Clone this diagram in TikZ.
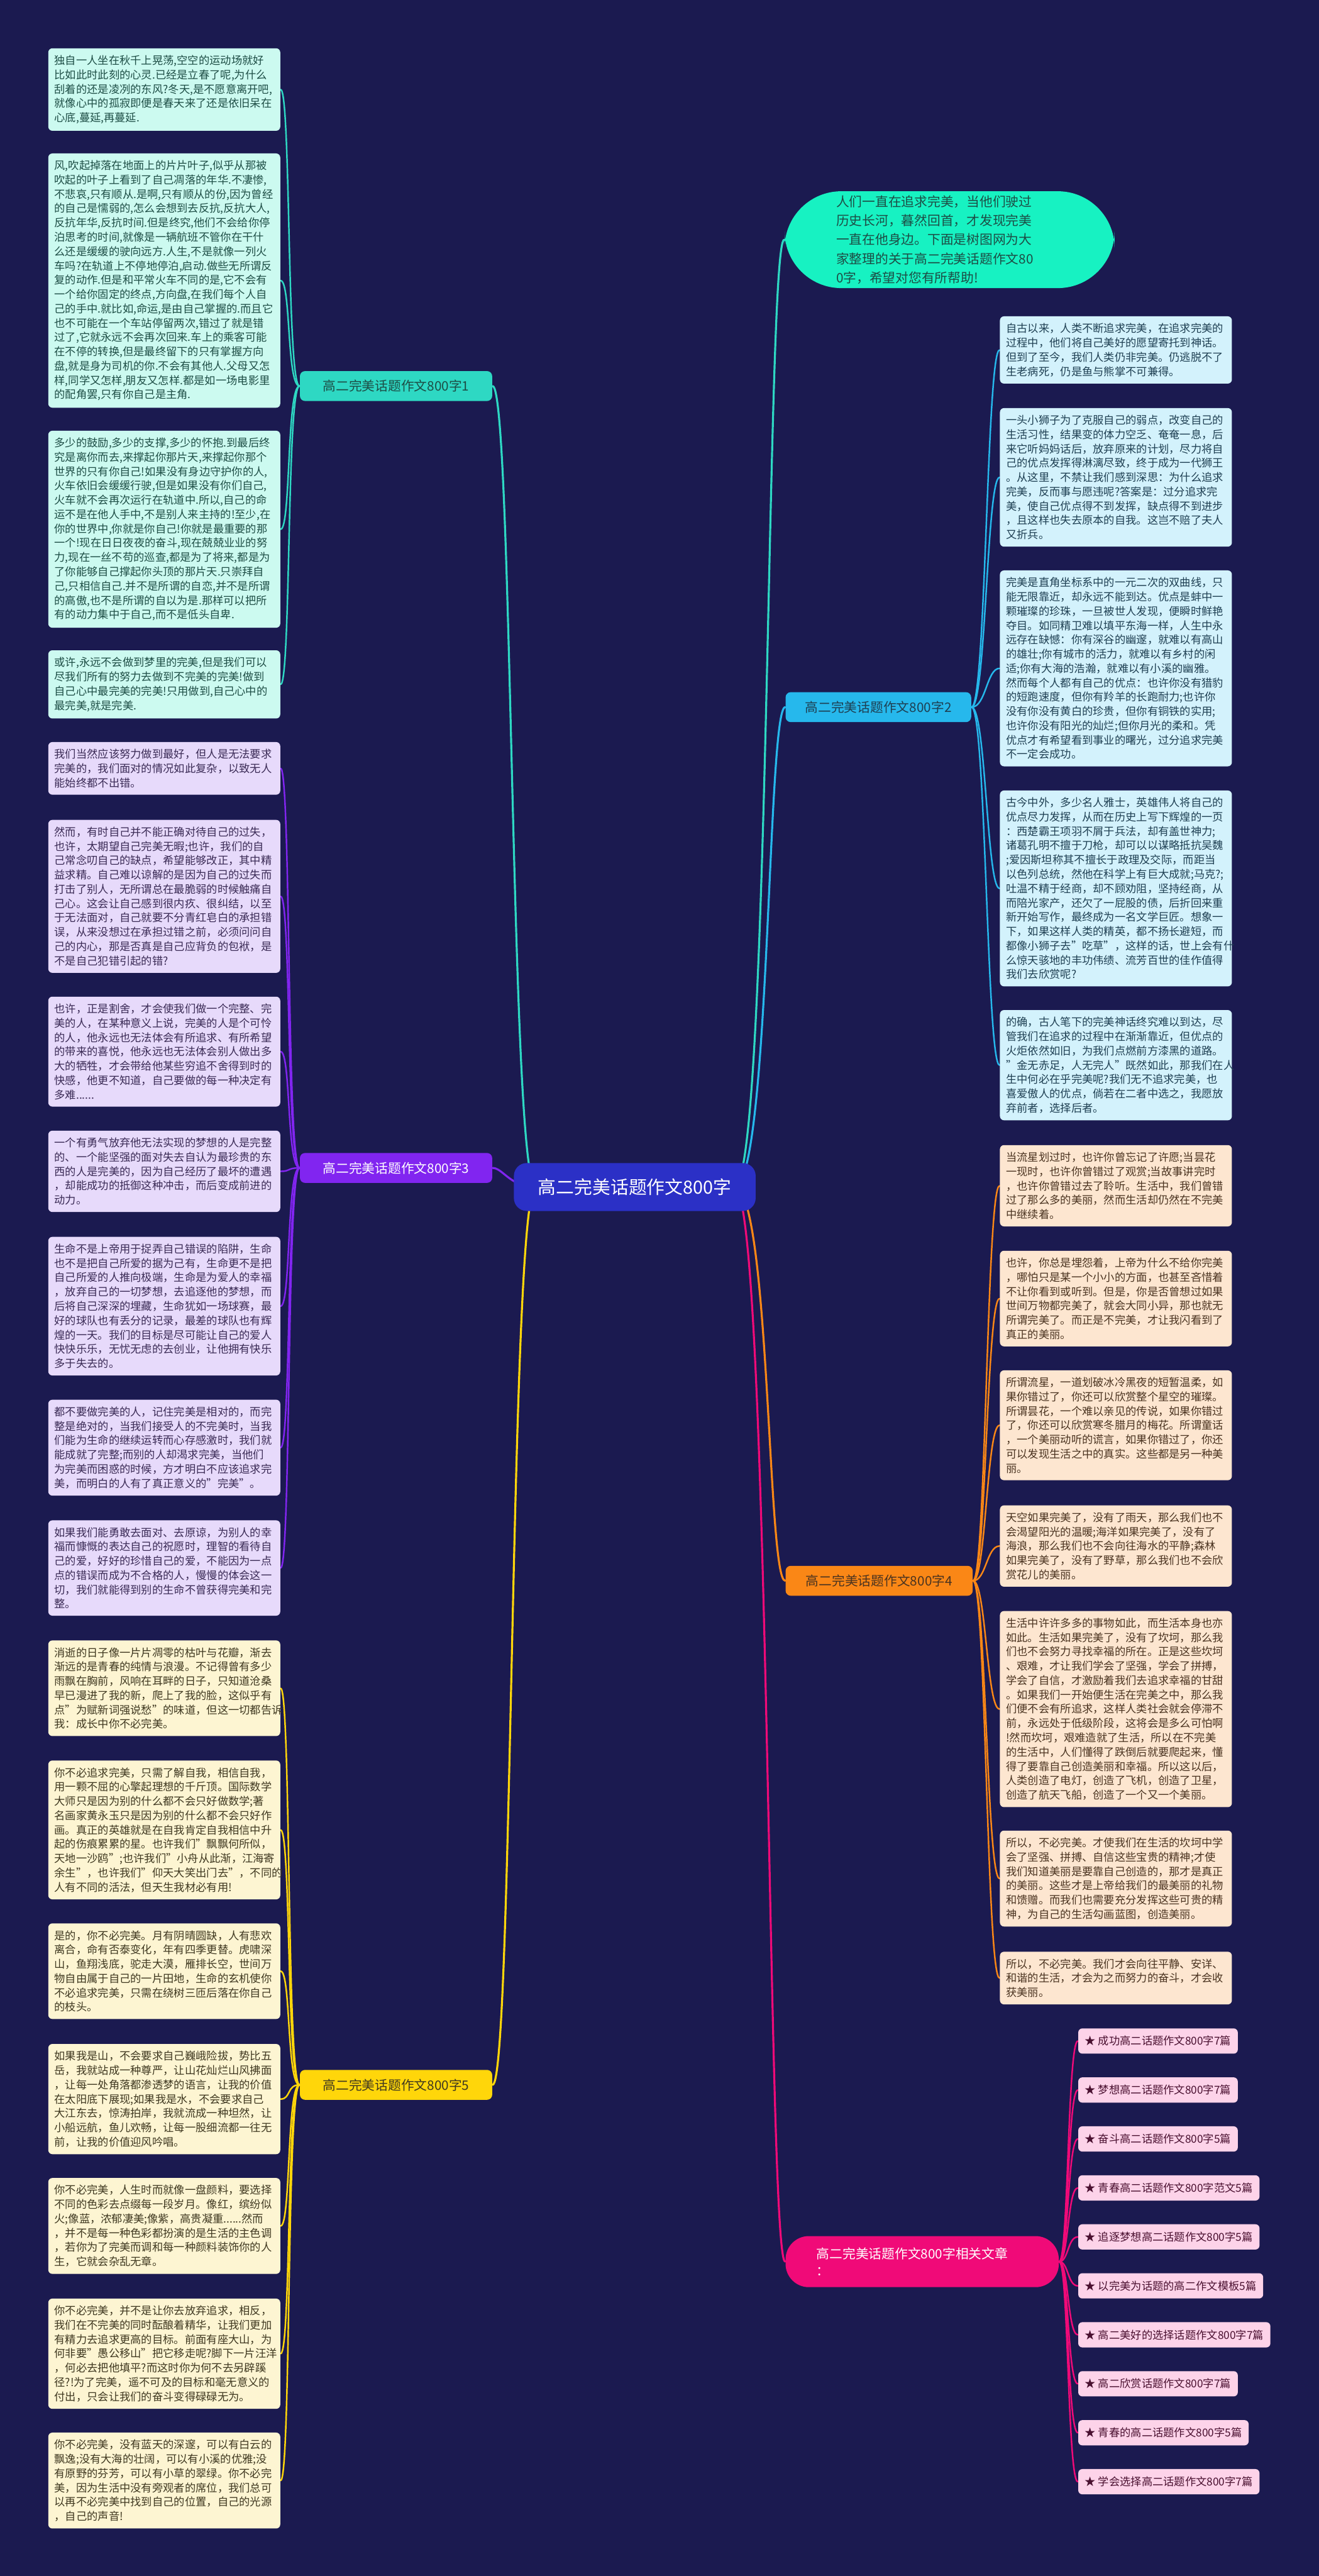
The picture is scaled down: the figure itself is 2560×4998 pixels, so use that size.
\documentclass[tikz,border=0pt]{standalone}
\usepackage{fontspec}
\setmainfont{Noto Sans CJK SC}
\pgfdeclarelayer{edges}
\pgfsetlayers{edges,main}
\definecolor{bgc}{HTML}{1B1A50}
\definecolor{rootc}{HTML}{2B30C6}
\definecolor{introc}{HTML}{17F2C2}
\definecolor{tealc}{HTML}{2ED8C3}
\definecolor{tealf}{HTML}{CCFAF0}
\definecolor{tealt}{HTML}{1D4D45}
\definecolor{bluec}{HTML}{26B8EC}
\definecolor{bluef}{HTML}{D3F2FC}
\definecolor{bluet}{HTML}{1E3F52}
\definecolor{purc}{HTML}{8125F0}
\definecolor{purf}{HTML}{E7DAFB}
\definecolor{purt}{HTML}{3A2A55}
\definecolor{orc}{HTML}{FA8716}
\definecolor{orf}{HTML}{FDE6D0}
\definecolor{ort}{HTML}{4A3320}
\definecolor{yelc}{HTML}{FFD60A}
\definecolor{yelf}{HTML}{FDF5D2}
\definecolor{yelt}{HTML}{3F3820}
\definecolor{magc}{HTML}{F00A78}
\definecolor{magf}{HTML}{FDD3E9}
\definecolor{magt}{HTML}{4A1030}
\begin{document}
\begin{tikzpicture}[x=0.01cm,y=-0.01cm,
  box/.style={anchor=north west,rounded corners=0.08cm,inner xsep=0.12cm,inner ysep=0.135cm,
    text width=4.26cm,align=left,font=\fontsize{6}{7.9}\selectfont},
  tbox/.style={box,fill=tealf,text=tealt},
  bbox/.style={box,fill=bluef,text=bluet},
  pbox/.style={box,fill=purf,text=purt},
  obox/.style={box,fill=orf,text=ort},
  ybox/.style={box,fill=yelf,text=yelt},
  topic/.style={rounded corners=0.1cm,minimum height=0.58cm,inner xsep=0.1cm,font=\fontsize{7.2}{9}\selectfont},
  ltopic/.style={topic,anchor=east,minimum width=3.73cm},
  rtopic/.style={topic,anchor=west,minimum width=3.6cm},
  relitem/.style={anchor=west,fill=magf,text=magt,rounded corners=0.08cm,inner xsep=0.13cm,
    minimum height=0.49cm,font=\fontsize{6}{7}\selectfont},
  trunk/.style={line width=1.1pt,line cap=round},
  twig/.style={line width=0.85pt,line cap=round}]
\useasboundingbox (0,0) rectangle (2560,4998);

\node[fill=rootc,text=white,rounded corners=0.25cm,minimum width=4.69cm,minimum height=0.93cm,
  font=\fontsize{10}{12}\selectfont] (root) at (1232,2303) {高二完美话题作文800字};

\node[fill=introc,text=tealt,rounded corners=1.1cm,text width=4.4cm,inner xsep=1cm,inner ysep=0.08cm,
  align=left,font=\fontsize{7.2}{10.5}\selectfont] (intro) at (1843,465)
  {人们一直在追求完美，当他们驶过\\历史长河，暮然回首，才发现完美\\一直在他身边。下面是树图网为大\\家整理的关于高二完美话题作文80\\0字，希望对您有所帮助!};

\node[ltopic,fill=tealc,text=tealt] (k1) at (956,749) {高二完美话题作文800字1};
\node[rtopic,fill=bluec,text=bluet] (k2) at (1524,1372) {高二完美话题作文800字2};
\node[ltopic,fill=purc,text=white] (k3) at (956,2266) {高二完美话题作文800字3};
\node[rtopic,fill=orc,text=ort,minimum width=3.63cm] (k4) at (1524,3067) {高二完美话题作文800字4};
\node[ltopic,fill=yelc,text=yelt] (k5) at (956,4045) {高二完美话题作文800字5};
\node[anchor=west,fill=magc,text=white,rounded corners=0.45cm,text width=4.1cm,inner xsep=0.6cm,
  minimum height=0.99cm,align=left,font=\fontsize{7.2}{9.5}\selectfont] (krel) at (1524,4388)
  {高二完美话题作文800字相关文章\\：};

% branch 1
\node[tbox] (n1a) at (93,93) {独自一人坐在秋千上晃荡,空空的运动场就好\\比如此时此刻的心灵.已经是立春了呢,为什么\\刮着的还是凌冽的东风?冬天,是不愿意离开吧,\\就像心中的孤寂即便是春天来了还是依旧呆在\\心底,蔓延,再蔓延.};
\node[tbox] (n1b) at (93,297) {风,吹起掉落在地面上的片片叶子,似乎从那被\\吹起的叶子上看到了自己凋落的年华.不凄惨,\\不悲哀,只有顺从.是啊,只有顺从的份,因为曾经\\的自己是懦弱的,怎么会想到去反抗,反抗大人,\\反抗年华,反抗时间.但是终究,他们不会给你停\\泊思考的时间,就像是一辆航班不管你在干什\\么还是缓缓的驶向远方.人生,不是就像一列火\\车吗?在轨道上不停地停泊,启动.做些无所谓反\\复的动作.但是和平常火车不同的是,它不会有\\一个给你固定的终点,方向盘,在我们每个人自\\己的手中.就比如,命运,是由自己掌握的.而且它\\也不可能在一个车站停留两次,错过了就是错\\过了,它就永远不会再次回来.车上的乘客可能\\在不停的转换,但是最终留下的只有掌握方向\\盘,就是身为司机的你.不会有其他人.父母又怎\\样,同学又怎样,朋友又怎样.都是如一场电影里\\的配角罢,只有你自己是主角.};
\node[tbox] (n1c) at (93,835) {多少的鼓励,多少的支撑,多少的怀抱.到最后终\\究是离你而去,来撑起你那片天,来撑起你那个\\世界的只有你自己!如果没有身边守护你的人,\\火车依旧会缓缓行驶,但是如果没有你们自己,\\火车就不会再次运行在轨道中.所以,自己的命\\运不是在他人手中,不是别人来主持的!至少,在\\你的世界中,你就是你自己!你就是最重要的那\\一个!现在日日夜夜的奋斗,现在兢兢业业的努\\力,现在一丝不苟的巡查,都是为了将来,都是为\\了你能够自己撑起你头顶的那片天.只崇拜自\\己,只相信自己.并不是所谓的自恋,并不是所谓\\的高傲,也不是所谓的自以为是.那样可以把所\\有的动力集中于自己,而不是低头自卑.};
\node[tbox] (n1d) at (93,1261) {或许,永远不会做到梦里的完美,但是我们可以\\尽我们所有的努力去做到不完美的完美!做到\\自己心中最完美的完美!只用做到,自己心中的\\最完美,就是完美.};

% branch 2
\node[bbox] (n2a) at (1940,613) {自古以来，人类不断追求完美，在追求完美的\\过程中，他们将自己美好的愿望寄托到神话。\\但到了至今，我们人类仍非完美。仍逃脱不了\\生老病死，仍是鱼与熊掌不可兼得。};
\node[bbox] (n2b) at (1940,791) {一头小狮子为了克服自己的弱点，改变自己的\\生活习性，结果变的体力空乏、奄奄一息，后\\来它听妈妈话后，放弃原来的计划，尽力将自\\己的优点发挥得淋漓尽致，终于成为一代狮王\\。从这里，不禁让我们感到深思：为什么追求\\完美，反而事与愿违呢?答案是：过分追求完\\美，使自己优点得不到发挥，缺点得不到进步\\，且这样也失去原本的自我。这岂不赔了夫人\\又折兵。};
\node[bbox] (n2c) at (1940,1106) {完美是直角坐标系中的一元二次的双曲线，只\\能无限靠近，却永远不能到达。优点是蚌中一\\颗璀璨的珍珠，一旦被世人发现，便瞬时鲜艳\\夺目。如同精卫难以填平东海一样，人生中永\\远存在缺憾：你有深谷的幽邃，就难以有高山\\的雄壮;你有城市的活力，就难以有乡村的闲\\适;你有大海的浩瀚，就难以有小溪的幽雅。\\然而每个人都有自己的优点：也许你没有猎豹\\的短跑速度，但你有羚羊的长跑耐力;也许你\\没有你没有黄白的珍贵，但你有铜铁的实用;\\也许你没有阳光的灿烂;但你月光的柔和。凭\\优点才有希望看到事业的曙光，过分追求完美\\不一定会成功。};
\node[bbox] (n2d) at (1940,1533) {古今中外，多少名人雅士，英雄伟人将自己的\\优点尽力发挥，从而在历史上写下辉煌的一页\\：西楚霸王项羽不屑于兵法，却有盖世神力;\\诸葛孔明不擅于刀枪，却可以以谋略抵抗吴魏\\;爱因斯坦称其不擅长于政理及交际，而距当\\以色列总统，然他在科学上有巨大成就;马克?;\\吐温不精于经商，却不顾劝阻，坚持经商，从\\而陪光家产，还欠了一屁股的债，后折回来重\\新开始写作，最终成为一名文学巨匠。想象一\\下，如果这样人类的精英，都不扬长避短，而\\都像小狮子去"吃草"，这样的话，世上会有什\\么惊天骇地的丰功伟绩、流芳百世的佳作值得\\我们去欣赏呢?};
\node[bbox] (n2e) at (1940,1959) {的确，古人笔下的完美神话终究难以到达，尽\\管我们在追求的过程中在渐渐靠近，但优点的\\火炬依然如旧，为我们点燃前方漆黑的道路。\\"金无赤足，人无完人"既然如此，那我们在人\\生中何必在乎完美呢?我们无不追求完美，也\\喜爱傲人的优点，倘若在二者中选之，我愿放\\弃前者，选择后者。};

% branch 3
\node[pbox] (n3a) at (93,1439) {我们当然应该努力做到最好，但人是无法要求\\完美的，我们面对的情况如此复杂，以致无人\\能始终都不出错。};
\node[pbox] (n3b) at (93,1590) {然而，有时自己并不能正确对待自己的过失，\\也许，太期望自己完美无暇;也许，我们的自\\己常念叨自己的缺点，希望能够改正，其中精\\益求精。自己难以谅解的是因为自己的过失而\\打击了别人，无所谓总在最脆弱的时候触痛自\\己心。这会让自己感到很内疚、很纠结，以至\\于无法面对，自己就要不分青红皂白的承担错\\误，从来没想过在承担过错之前，必须问问自\\己的内心，那是否真是自己应背负的包袱，是\\不是自己犯错引起的错?};
\node[pbox] (n3c) at (93,1933) {也许，正是割舍，才会使我们做一个完整、完\\美的人，在某种意义上说，完美的人是个可怜\\的人，他永远也无法体会有所追求、有所希望\\的带来的喜悦，他永远也无法体会别人做出多\\大的牺牲，才会带给他某些穷追不舍得到时的\\快感，他更不知道，自己要做的每一种决定有\\多难......};
\node[pbox] (n3d) at (93,2193) {一个有勇气放弃他无法实现的梦想的人是完整\\的、一个能坚强的面对失去自认为最珍贵的东\\西的人是完美的，因为自己经历了最坏的遭遇\\，却能成功的抵御这种冲击，而后变成前进的\\动力。};
\node[pbox] (n3e) at (93,2399) {生命不是上帝用于捉弄自己错误的陷阱，生命\\也不是把自己所爱的据为己有，生命更不是把\\自己所爱的人推向极端，生命是为爱人的幸福\\，放弃自己的一切梦想，去追逐他的梦想，而\\后将自己深深的埋藏，生命犹如一场球赛，最\\好的球队也有丢分的记录，最差的球队也有辉\\煌的一天。我们的目标是尽可能让自己的爱人\\快快乐乐，无忧无虑的去创业，让他拥有快乐\\多于失去的。};
\node[pbox] (n3f) at (93,2715) {都不要做完美的人，记住完美是相对的，而完\\整是绝对的，当我们接受人的不完美时，当我\\们能为生命的继续运转而心存感激时，我们就\\能成就了完整;而别的人却渴求完美，当他们\\为完美而困惑的时候，方才明白不应该追求完\\美，而明白的人有了真正意义的"完美"。};
\node[pbox] (n3g) at (93,2949) {如果我们能勇敢去面对、去原谅，为别人的幸\\福而慷慨的表达自己的祝愿时，理智的看待自\\己的爱，好好的珍惜自己的爱，不能因为一点\\点的错误而成为不合格的人，慢慢的体会这一\\切，我们就能得到别的生命不曾获得完美和完\\整。};

% branch 4
\node[obox] (n4a) at (1940,2221) {当流星划过时，也许你曾忘记了许愿;当昙花\\一现时，也许你曾错过了观赏;当故事讲完时\\，也许你曾错过去了聆听。生活中，我们曾错\\过了那么多的美丽，然而生活却仍然在不完美\\中继续着。};
\node[obox] (n4b) at (1940,2426) {也许，你总是埋怨着，上帝为什么不给你完美\\，哪怕只是某一个小小的方面，也甚至吝惜着\\不让你看到或听到。但是，你是否曾想过如果\\世间万物都完美了，就会大同小异，那也就无\\所谓完美了。而正是不完美，才让我闪看到了\\真正的美丽。};
\node[obox] (n4c) at (1940,2658) {所谓流星，一道划破冰冷黑夜的短暂温柔，如\\果你错过了，你还可以欣赏整个星空的璀璨。\\所谓昙花，一个难以亲见的传说，如果你错过\\了，你还可以欣赏寒冬腊月的梅花。所谓童话\\，一个美丽动听的谎言，如果你错过了，你还\\可以发现生活之中的真实。这些都是另一种美\\丽。};
\node[obox] (n4d) at (1940,2920) {天空如果完美了，没有了雨天，那么我们也不\\会渴望阳光的温暖;海洋如果完美了，没有了\\海浪，那么我们也不会向往海水的平静;森林\\如果完美了，没有了野草，那么我们也不会欣\\赏花儿的美丽。};
\node[obox] (n4e) at (1940,3125) {生活中许许多多的事物如此，而生活本身也亦\\如此。生活如果完美了，没有了坎坷，那么我\\们也不会努力寻找幸福的所在。正是这些坎坷\\、艰难，才让我们学会了坚强，学会了拼搏，\\学会了自信，才激励着我们去追求幸福的甘甜\\。如果我们一开始便生活在完美之中，那么我\\们便不会有所追求，这样人类社会就会停滞不\\前，永远处于低级阶段，这将会是多么可怕啊\\!然而坎坷，艰难造就了生活，所以在不完美\\的生活中，人们懂得了跌倒后就要爬起来，懂\\得了要靠自己创造美丽和幸福。所以这以后，\\人类创造了电灯，创造了飞机，创造了卫星，\\创造了航天飞船，创造了一个又一个美丽。};
\node[obox] (n4f) at (1940,3551) {所以，不必完美。才使我们在生活的坎坷中学\\会了坚强、拼搏、自信这些宝贵的精神;才使\\我们知道美丽是要靠自己创造的，那才是真正\\的美丽。这些才是上帝给我们的最美丽的礼物\\和馈赠。而我们也需要充分发挥这些可贵的精\\神，为自己的生活勾画蓝图，创造美丽。};
\node[obox] (n4g) at (1940,3786) {所以，不必完美。我们才会向往平静、安详、\\和谐的生活，才会为之而努力的奋斗，才会收\\获美丽。};

% branch 5
\node[ybox] (n5a) at (93,3182) {消逝的日子像一片片凋零的枯叶与花瓣，渐去\\渐远的是青春的纯情与浪漫。不记得曾有多少\\雨飘在胸前，风响在耳畔的日子，只知道沧桑\\早已漫进了我的新，爬上了我的脸，这似乎有\\点"为赋新词强说愁"的味道，但这一切都告诉\\我：成长中你不必完美。};
\node[ybox] (n5b) at (93,3415) {你不必追求完美，只需了解自我，相信自我，\\用一颗不屈的心擎起理想的千斤顶。国际数学\\大师只是因为别的什么都不会只好做数学;著\\名画家黄永玉只是因为别的什么都不会只好作\\画。真正的英雄就是在自我肯定自我相信中升\\起的伤痕累累的星。也许我们"飘飘何所似，\\天地一沙鸥";也许我们"小舟从此渐，江海寄\\余生"，也许我们"仰天大笑出门去"，不同的\\人有不同的活法，但天生我材必有用!};
\node[ybox] (n5c) at (93,3731) {是的，你不必完美。月有阴晴圆缺，人有悲欢\\离合，命有否泰变化，年有四季更替。虎啸深\\山，鱼翔浅底，驼走大漠，雁排长空，世间万\\物自由属于自己的一片田地，生命的玄机使你\\不必追求完美，只需在绕树三匝后落在你自己\\的枝头。};
\node[ybox] (n5d) at (93,3965) {如果我是山，不会要求自己巍峨险拔，势比五\\岳，我就站成一种尊严，让山花灿烂山风拂面\\，让每一处角落都渗透梦的语言，让我的价值\\在太阳底下展现;如果我是水，不会要求自己\\大江东去，惊涛拍岸，我就流成一种坦然，让\\小船远航，鱼儿欢畅，让每一股细流都一往无\\前，让我的价值迎风吟唱。};
\node[ybox] (n5e) at (93,4225) {你不必完美，人生时而就像一盘颜料，要选择\\不同的色彩去点缀每一段岁月。像红，缤纷似\\火;像蓝，浓郁凄美;像紫，高贵凝重......然而\\，并不是每一种色彩都扮演的是生活的主色调\\，若你为了完美而调和每一种颜料装饰你的人\\生，它就会杂乱无章。};
\node[ybox] (n5f) at (93,4459) {你不必完美，并不是让你去放弃追求，相反，\\我们在不完美的同时酝酿着精华，让我们更加\\有精力去追求更高的目标。前面有座大山，为\\何非要"愚公移山"把它移走呢?脚下一片汪洋\\，何必去把他填平?而这时你为何不去另辟蹊\\径?!为了完美，遥不可及的目标和毫无意义的\\付出，只会让我们的奋斗变得碌碌无为。};
\node[ybox] (n5g) at (93,4719) {你不必完美，没有蓝天的深邃，可以有白云的\\飘逸;没有大海的壮阔，可以有小溪的优雅;没\\有原野的芬芳，可以有小草的翠绿。你不必完\\美，因为生活中没有旁观者的席位，我们总可\\以再不必完美中找到自己的位置，自己的光源\\，自己的声音!};

% related
\foreach \t [count=\i] in {成功高二话题作文800字7篇,梦想高二话题作文800字7篇,奋斗高二话题作文800字5篇,
  青春高二话题作文800字范文5篇,追逐梦想高二话题作文800字5篇,以完美为话题的高二作文模板5篇,
  高二美好的选择话题作文800字7篇,高二欣赏话题作文800字7篇,青春的高二话题作文800字5篇,
  学会选择高二话题作文800字7篇}
  \node[relitem] (rel\i) at (2092,{3960+95*(\i-1)}) {★ \t};

\begin{pgfonlayer}{edges}
\fill[bgc] (0,0) rectangle (2560,4998);
\coordinate (rl) at (1040,2303);
\coordinate (rr) at (1425,2303);
\draw[trunk,tealc] (rl) .. controls +(-50,0) and +(40,0) .. (k1.east);
\draw[trunk,purc] (rl) .. controls +(-50,0) and +(20,0) .. (k3.east);
\draw[trunk,yelc] (rl) .. controls +(-50,0) and +(40,0) .. (k5.east);
\draw[trunk,tealc] (rr) .. controls +(70,0) and +(-35,0) .. (intro.west);
\draw[trunk,bluec] (rr) .. controls +(70,0) and +(-35,0) .. (k2.west);
\draw[trunk,orc] (rr) .. controls +(70,0) and +(-35,0) .. (k4.west);
\draw[trunk,magc] (rr) .. controls +(70,0) and +(-35,0) .. (krel.west);
\foreach \c in {a,...,d}
  \draw[twig,tealc] (k1.west) .. controls +(-25,0) and +(20,0) .. (n1\c.east);
\foreach \c in {a,...,e}
  \draw[twig,bluec] (k2.east) .. controls +(28,0) and +(-25,0) .. (n2\c.west);
\foreach \c in {a,...,g}
  \draw[twig,purc] (k3.west) .. controls +(-25,0) and +(20,0) .. (n3\c.east);
\foreach \c in {a,...,g}
  \draw[twig,orc] (k4.east) .. controls +(25,0) and +(-25,0) .. (n4\c.west);
\foreach \c in {a,...,g}
  \draw[twig,yelc] (k5.west) .. controls +(-25,0) and +(20,0) .. (n5\c.east);
\foreach \i in {1,...,10}
  \draw[twig,magc] (krel.east) .. controls +(18,0) and +(-20,0) .. (rel\i.west);
\end{pgfonlayer}
\end{tikzpicture}
\end{document}
